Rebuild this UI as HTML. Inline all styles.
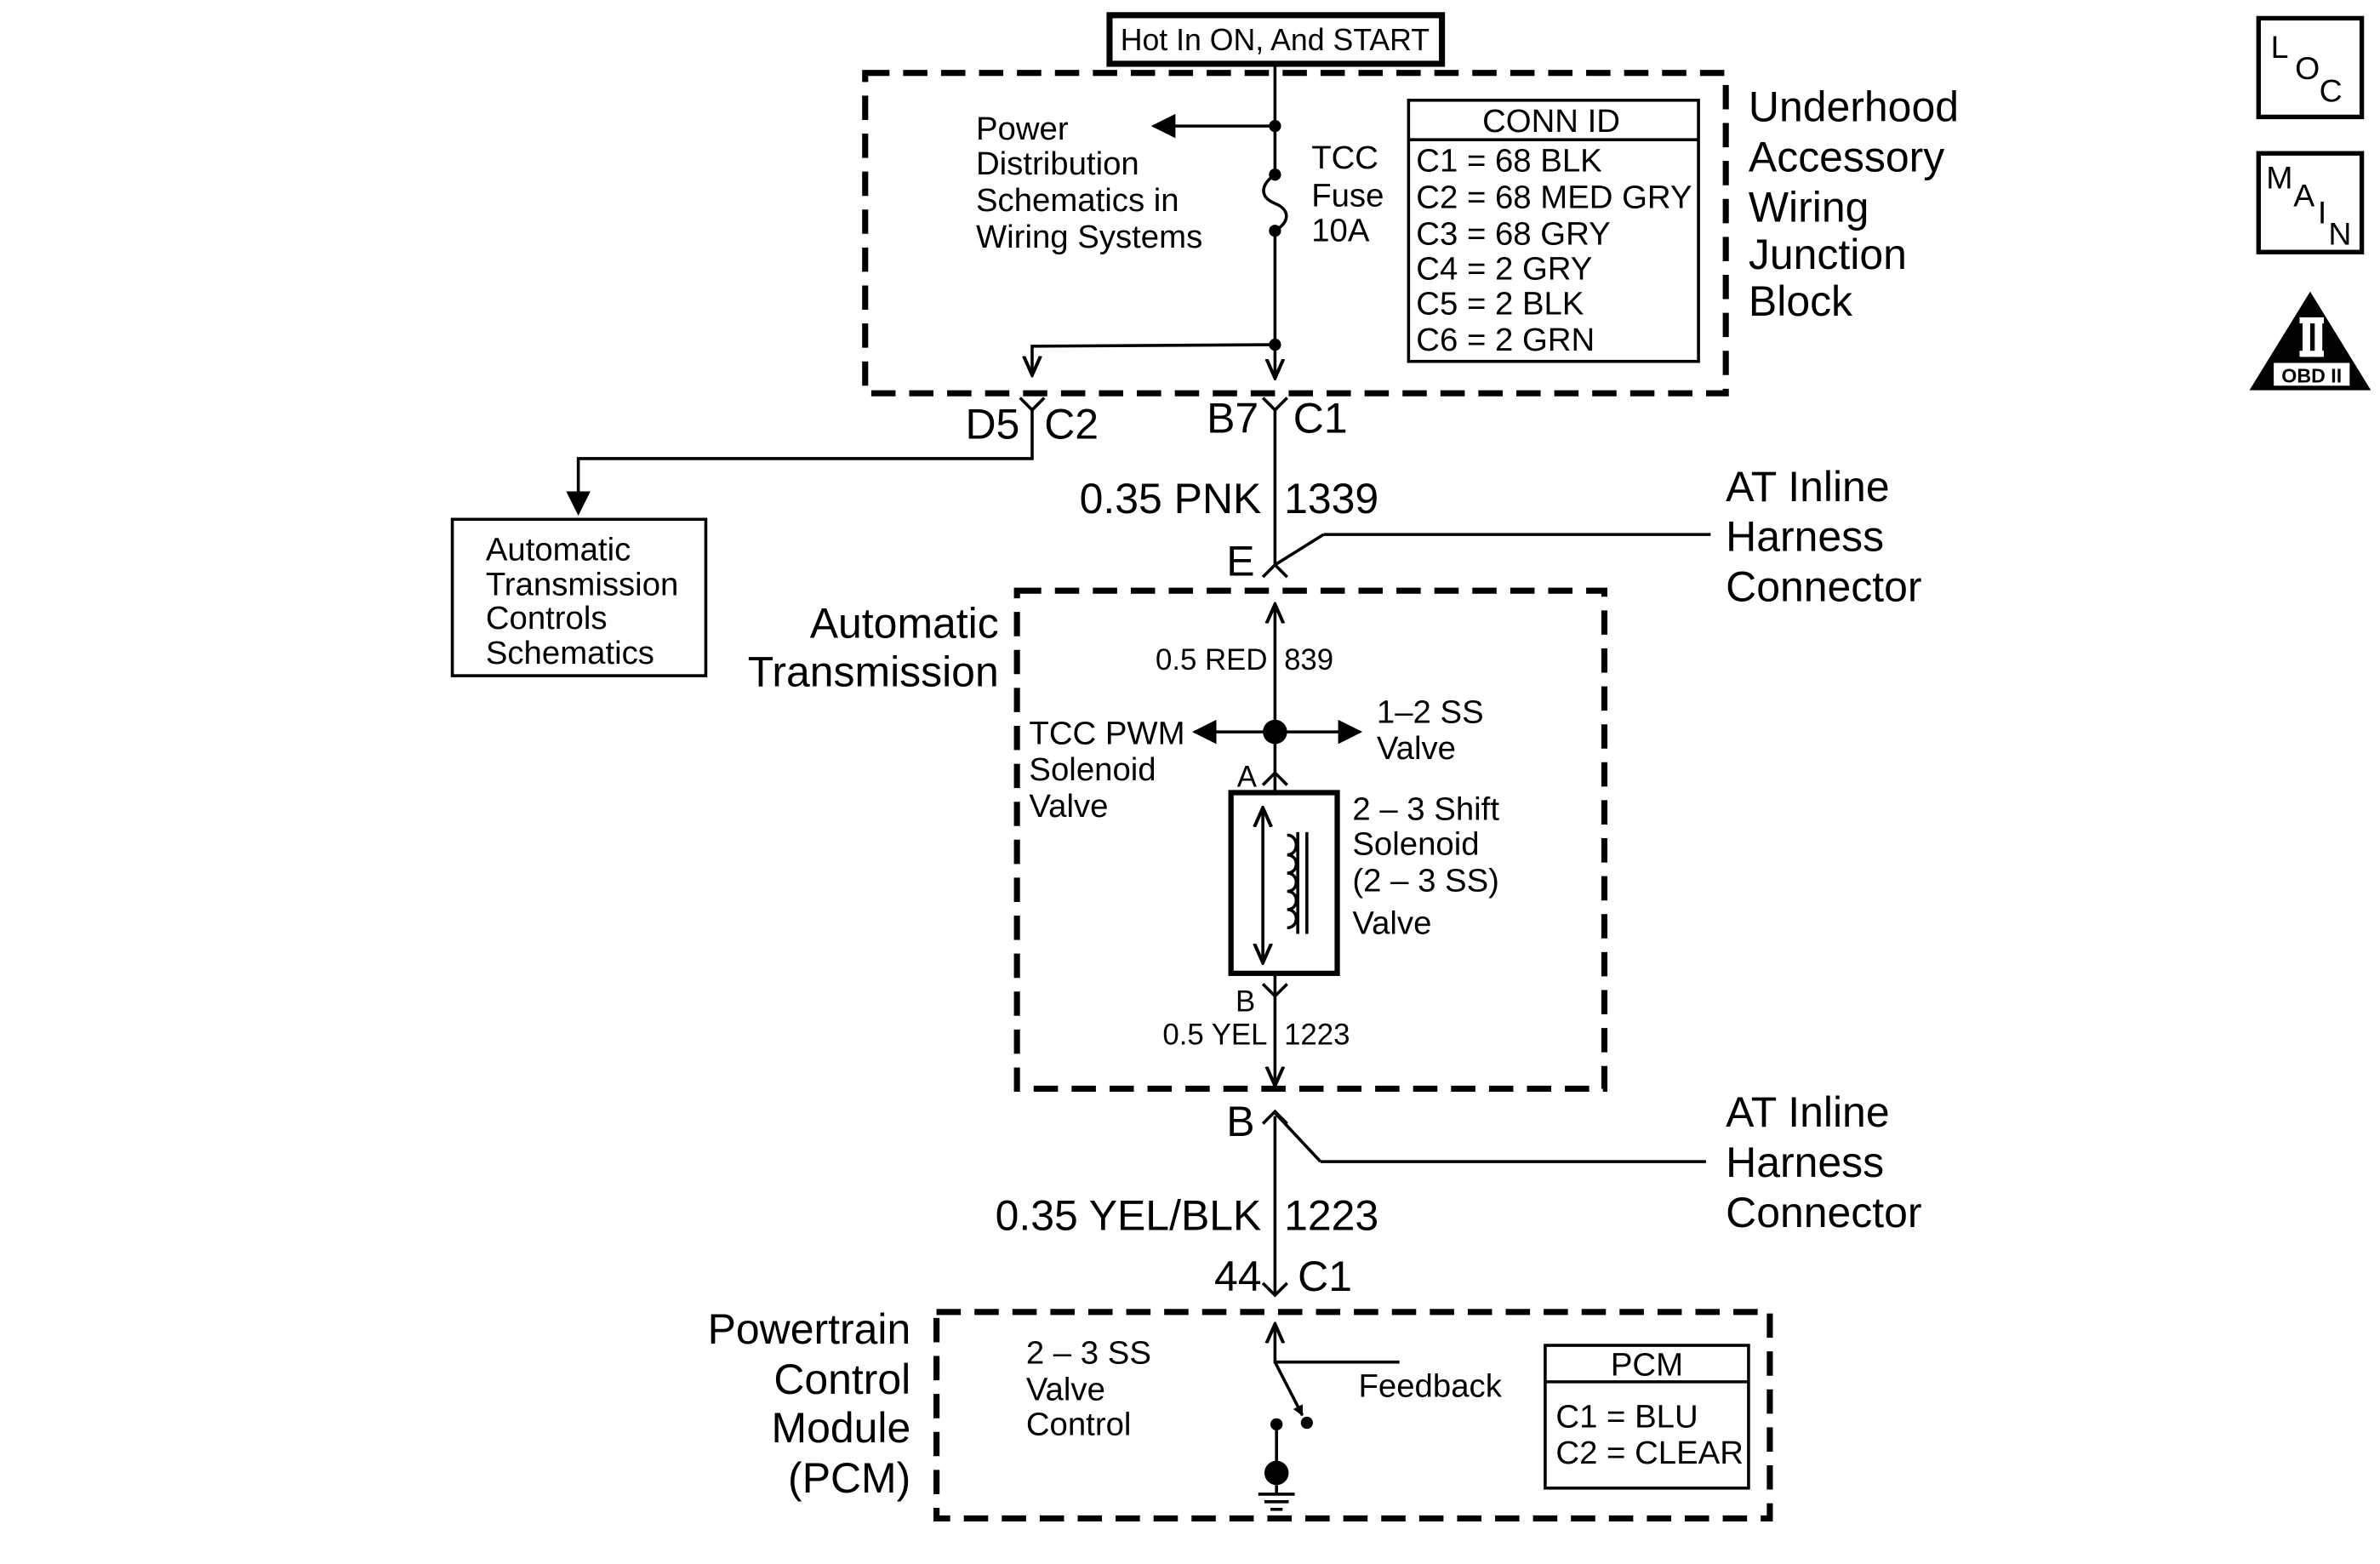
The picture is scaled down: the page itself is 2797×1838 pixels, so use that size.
<!DOCTYPE html>
<html><head><meta charset="utf-8">
<style>
html,body{margin:0;padding:0;background:#fff;}
svg{display:block;}
text{font-family:"Liberation Sans",Arial,sans-serif;fill:#000;}
</style></head>
<body>
<svg width="2797" height="1838" viewBox="0 0 1568 1030" preserveAspectRatio="none" xmlns="http://www.w3.org/2000/svg">
<defs>
<marker id="ah" viewBox="0 0 10 10" refX="9" refY="5" markerWidth="7" markerHeight="7" orient="auto-start-reverse" markerUnits="userSpaceOnUse">
<path d="M0,0 L10,5 L0,10 z" fill="#000"/></marker>
<marker id="ah2" viewBox="0 0 10 10" refX="9" refY="5" markerWidth="16" markerHeight="16" orient="auto-start-reverse" markerUnits="userSpaceOnUse">
<path d="M0,0 L10,5 L0,10 z" fill="#000"/></marker>
<marker id="oa" viewBox="0 0 10 10" refX="9" refY="5" markerWidth="14" markerHeight="14" orient="auto-start-reverse" markerUnits="userSpaceOnUse">
<path d="M0,1 L9,5 L0,9" fill="none" stroke="#000" stroke-width="1.6"/></marker>
</defs>
<g fill="none" stroke="#000" stroke-width="2">
<rect x="731" y="10" width="219" height="32" stroke-width="4"/>
<rect x="570" y="48" width="567" height="211" stroke-width="4" stroke-dasharray="16,9"/>
<rect x="670" y="389" width="387" height="328" stroke-width="4" stroke-dasharray="16,9"/>
<rect x="617" y="864" width="549" height="136" stroke-width="4" stroke-dasharray="16,9"/>
<line x1="840" y1="42" x2="840" y2="115"/>
<line x1="840" y1="83" x2="760" y2="83" marker-end="url(#ah2)"/>
<path d="M840,115 C830,122 830,130 840,134 C850,138 850,146 840,152"/>
<line x1="840" y1="152" x2="840" y2="249" marker-end="url(#oa)"/>
<polyline points="840,227 680,228 680,247" marker-end="url(#oa)"/>
<rect x="928" y="66" width="191" height="172"/>
<line x1="928" y1="92" x2="1119" y2="92"/>
<polyline points="672,262 680,270 688,262"/>
<polyline points="832,262 840,270 848,262"/>
<line x1="840" y1="270" x2="840" y2="372"/>
<polyline points="680,270 680,302 381,302 381,338" marker-end="url(#ah2)"/>
<rect x="298" y="342" width="167" height="103"/>
<polyline points="832,380 840,372 848,380"/>
<line x1="840" y1="372" x2="872" y2="352"/>
<line x1="872" y1="352" x2="1127" y2="352"/>
<line x1="840" y1="474" x2="840" y2="398" marker-end="url(#oa)"/>
<line x1="840" y1="482" x2="787" y2="482" marker-end="url(#ah2)"/>
<line x1="840" y1="482" x2="896" y2="482" marker-end="url(#ah2)"/>
<line x1="840" y1="482" x2="840" y2="522"/>
<polyline points="832,517 840,509 848,517"/>
<rect x="811" y="522" width="70" height="119" stroke-width="3.5"/>
<line x1="832" y1="532" x2="832" y2="634" marker-start="url(#oa)" marker-end="url(#oa)"/>
<path d="M848,550 c8,0 8,13 0,13 c8,0 8,12 0,12 c8,0 8,12 0,12 c8,0 8,12 0,12 c8,0 8,12 0,12"/>
<line x1="855" y1="548" x2="855" y2="615"/>
<line x1="861" y1="548" x2="861" y2="615"/>
<line x1="840" y1="641" x2="840" y2="715" marker-end="url(#oa)"/>
<polyline points="832,648 840,656 848,648"/>
<polyline points="832,740 840,732 848,740"/>
<line x1="840" y1="733" x2="870" y2="765"/>
<line x1="870" y1="765" x2="1124" y2="765"/>
<line x1="840" y1="735" x2="840" y2="852"/>
<polyline points="832,845 840,853 848,845"/>
<line x1="840" y1="898" x2="840" y2="872" marker-end="url(#oa)"/>
<line x1="840" y1="897" x2="922" y2="897"/>
<line x1="840" y1="897" x2="858" y2="932" marker-end="url(#ah)"/>
<line x1="841" y1="938" x2="841" y2="970"/>
<line x1="829" y1="984" x2="853" y2="984"/>
<line x1="833" y1="989" x2="849" y2="989"/>
<line x1="837" y1="994" x2="845" y2="994"/>
<line x1="841" y1="978" x2="841" y2="984"/>
<rect x="1018" y="886" width="134" height="94"/>
<line x1="1018" y1="910" x2="1152" y2="910"/>
<rect x="1488" y="12" width="68" height="65" stroke-width="3"/>
<rect x="1488" y="101" width="68" height="65" stroke-width="3"/>
</g>
<g fill="#000">
<circle cx="840" cy="83" r="4"/><circle cx="840" cy="115" r="4"/><circle cx="840" cy="152" r="4"/><circle cx="840" cy="227" r="4"/>
<circle cx="840" cy="482" r="8"/>
<circle cx="861" cy="937" r="4"/><circle cx="841" cy="938" r="4"/><circle cx="841" cy="970" r="8"/>
<polygon points="1522,192 1482,257 1562,257"/>
</g>
<g fill="#fff">
<rect x="1498" y="239" width="50" height="15"/>
<rect x="1515" y="209" width="16" height="4"/>
<rect x="1515" y="231" width="16" height="4"/>
<rect x="1517" y="209" width="5" height="26"/>
<rect x="1525" y="209" width="5" height="26"/>
</g>
<text x="1523" y="252" font-size="13" text-anchor="middle" font-weight="bold">OBD II</text>
<text x="1496" y="38" font-size="21">L</text><text x="1512" y="52" font-size="21">O</text><text x="1528" y="67" font-size="21">C</text>
<text x="1493" y="124" font-size="21">M</text><text x="1511" y="136" font-size="21">A</text><text x="1527" y="147" font-size="21">I</text><text x="1534" y="161" font-size="21">N</text>

<text x="840" y="33" font-size="20" text-anchor="middle">Hot In ON, And START</text>
<g font-size="21.5">
<text x="643" y="92">Power</text><text x="643" y="115">Distribution</text><text x="643" y="139">Schematics in</text><text x="643" y="163">Wiring Systems</text>
<text x="864" y="111">TCC</text><text x="864" y="136">Fuse</text><text x="864" y="159">10A</text>
<text x="1022" y="87" text-anchor="middle">CONN ID</text>
<text x="933" y="113">C1 = 68 BLK</text><text x="933" y="137">C2 = 68 MED GRY</text><text x="933" y="161">C3 = 68 GRY</text>
<text x="933" y="184">C4 = 2 GRY</text><text x="933" y="207">C5 = 2 BLK</text><text x="933" y="231">C6 = 2 GRN</text>
<text x="320" y="369">Automatic</text><text x="320" y="392">Transmission</text><text x="320" y="414">Controls</text><text x="320" y="437">Schematics</text>
<text x="835" y="441" text-anchor="end" font-size="19.5">0.5 RED</text><text x="846" y="441" font-size="19.5">839</text>
<text x="678" y="490">TCC PWM</text><text x="678" y="514">Solenoid</text><text x="678" y="538">Valve</text>
<text x="907" y="476">1–2 SS</text><text x="907" y="500">Valve</text>
<text x="815" y="518" font-size="19.5">A</text>
<text x="891" y="540">2 – 3 Shift</text><text x="891" y="563">Solenoid</text><text x="891" y="587">(2 – 3 SS)</text><text x="891" y="615">Valve</text>
<text x="814" y="666" font-size="19.5">B</text>
<text x="835" y="688" text-anchor="end" font-size="19.5">0.5 YEL</text><text x="846" y="688" font-size="19.5">1223</text>
<text x="676" y="898">2 – 3 SS</text><text x="676" y="922">Valve</text><text x="676" y="945">Control</text>
<text x="895" y="920">Feedback</text>
<text x="1085" y="906" text-anchor="middle">PCM</text>
<text x="1025" y="940">C1 = BLU</text><text x="1025" y="964">C2 = CLEAR</text>
</g>
<g font-size="28">
<text x="1152" y="80">Underhood</text><text x="1152" y="113">Accessory</text><text x="1152" y="146">Wiring</text><text x="1152" y="177">Junction</text><text x="1152" y="208">Block</text>
<text x="636" y="289">D5</text><text x="688" y="289">C2</text>
<text x="795" y="285">B7</text><text x="852" y="285">C1</text>
<text x="831" y="338" text-anchor="end">0.35 PNK</text><text x="846" y="338">1339</text>
<text x="808" y="379">E</text>
<text x="1137" y="330">AT Inline</text><text x="1137" y="363">Harness</text><text x="1137" y="396">Connector</text>
<text x="658" y="420" text-anchor="end">Automatic</text><text x="658" y="452" text-anchor="end">Transmission</text>
<text x="808" y="748">B</text>
<text x="1137" y="742">AT Inline</text><text x="1137" y="775">Harness</text><text x="1137" y="808">Connector</text>
<text x="831" y="810" text-anchor="end">0.35 YEL/BLK</text><text x="846" y="810">1223</text>
<text x="800" y="850">44</text><text x="855" y="850">C1</text>
<text x="600" y="885" text-anchor="end">Powertrain</text><text x="600" y="918" text-anchor="end">Control</text><text x="600" y="950" text-anchor="end">Module</text><text x="600" y="983" text-anchor="end">(PCM)</text>
</g>
</svg>
</body></html>
